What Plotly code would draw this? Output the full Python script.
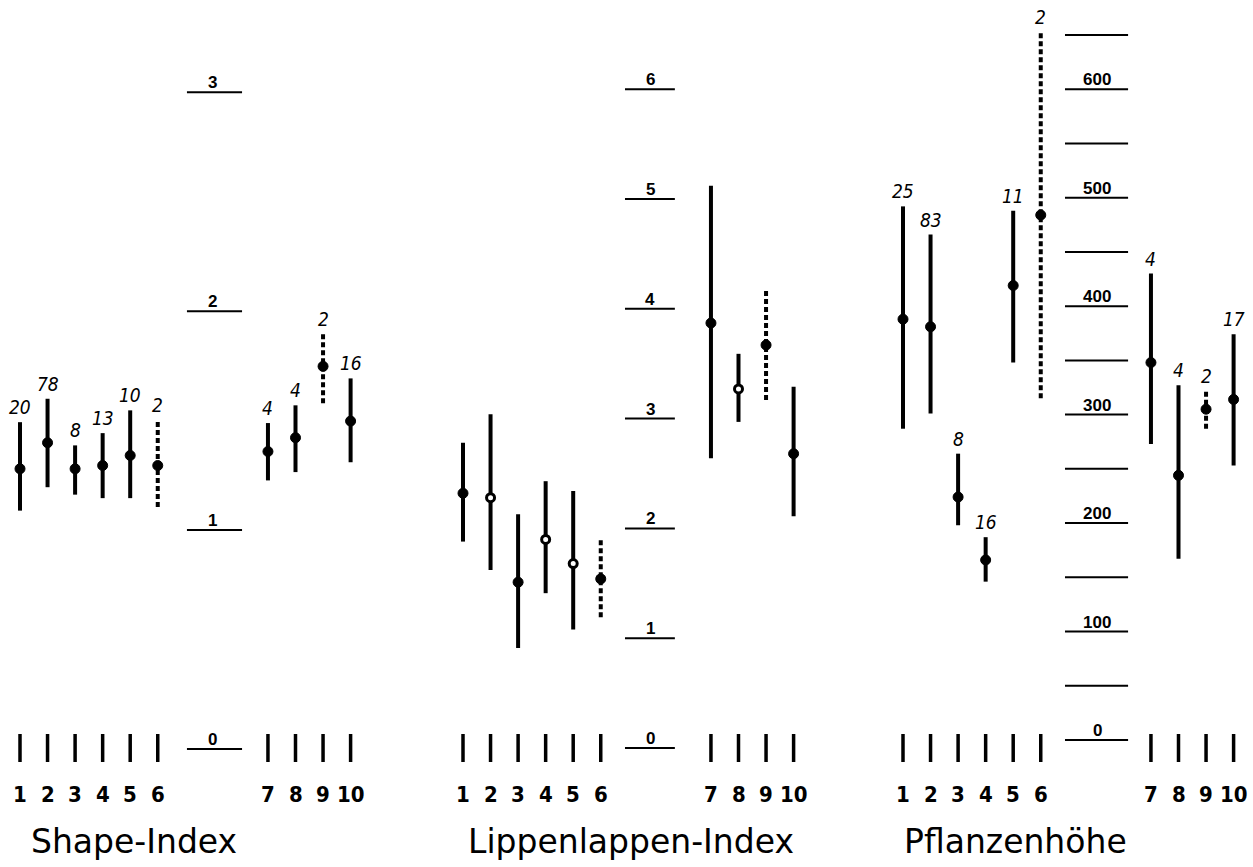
import plotly.graph_objects as go

# ---------------- data ----------------
groups = ["1", "2", "3", "4", "5", "6", "7", "8", "9", "10"]
dashed = [False, False, False, False, False, True, False, False, True, False]

shape_mean = [1.280, 1.399, 1.280, 1.295, 1.341, 1.295, 1.359, 1.422, 1.748, 1.498]
shape_low = [1.089, 1.196, 1.162, 1.146, 1.146, 1.105, 1.227, 1.265, 1.579, 1.310]
shape_high = [1.493, 1.600, 1.387, 1.443, 1.547, 1.501, 1.489, 1.570, 1.895, 1.693]
shape_n = ["20", "78", "8", "13", "10", "2", "4", "4", "2", "16"]
shape_ticks = [0, 1, 2, 3]
shape_ticklabels = ["0", "1", "2", "3"]

lip_mean = [2.32, 2.28, 1.51, 1.90, 1.68, 1.54, 3.87, 3.27, 3.67, 2.68]
lip_low = [1.88, 1.62, 0.91, 1.41, 1.08, 1.19, 2.64, 2.97, 3.17, 2.11]
lip_high = [2.78, 3.04, 2.13, 2.43, 2.34, 1.90, 5.12, 3.59, 4.18, 3.29]
lip_open = [False, True, False, True, True, False, False, True, False, False]
lip_n = ["", "", "", "", "", "", "", "", "", ""]
lip_ticks = [0, 1, 2, 3, 4, 5, 6]
lip_ticklabels = ["0", "1", "2", "3", "4", "5", "6"]

height_mean = [388, 381, 224, 166, 419, 484, 348, 244, 305, 314]
height_low = [287, 301, 198, 146, 348, 315, 273, 167, 287, 253]
height_high = [492, 466, 264, 187, 488, 653, 430, 327, 322, 374]
height_n = ["25", "83", "8", "16", "11", "2", "4", "4", "2", "17"]
height_ticks = [0, 50, 100, 150, 200, 250, 300, 350, 400, 450, 500, 550, 600, 650, 700]
height_ticklabels = ["0", "", "100", "", "200", "", "300", "", "400", "", "500", "", "600", "", ""]

titles = ["Shape-Index", "Lippenlappen-Index", "Pflanzenhöhe"]

# ---------------- layout geometry (positions / styles) ----------------
W, H = 1253, 867
slot = [0, 1, 2, 3, 4, 5, 9, 10, 11, 12]
spacing = 27.55
panels = [
    dict(base=20, y0px=749, ppu=218.9, scale_c=7.0, scale_l=6.06, scale_r=8.06, title_x=134,
         mean=shape_mean, low=shape_low, high=shape_high, n=shape_n, opn=[False] * 10,
         ticks=shape_ticks, ticklabels=shape_ticklabels),
    dict(base=463, y0px=748, ppu=109.8, scale_c=6.8, scale_l=5.88, scale_r=7.69, title_x=631,
         mean=lip_mean, low=lip_low, high=lip_high, n=lip_n, opn=lip_open,
         ticks=lip_ticks, ticklabels=lip_ticklabels),
    dict(base=903, y0px=740, ppu=1.0846, scale_c=7.05, scale_l=5.88, scale_r=8.17, title_x=1015,
         mean=height_mean, low=height_low, high=height_high, n=height_n, opn=[False] * 10,
         ticks=height_ticks, ticklabels=height_ticklabels),
]

fig = go.Figure()
shapes = []
annotations = []
layout_axes = {}

num_font = dict(family="Liberation Sans Narrow, DejaVu Sans Condensed, Arial Narrow, sans-serif",
                size=22, color="black")
n_font = dict(family="Liberation Sans Narrow, DejaVu Sans Condensed, sans-serif", size=19,
              color="black")
scale_font = dict(family="Liberation Sans, Arial, sans-serif", size=17, color="black")
title_font = dict(family="DejaVu Sans, Liberation Sans, sans-serif", size=33, color="black")

for k, p in enumerate(panels, start=1):
    xa = "x" if k == 1 else f"x{k}"
    ya = "y" if k == 1 else f"y{k}"
    xkey = "xaxis" if k == 1 else f"xaxis{k}"
    ykey = "yaxis" if k == 1 else f"yaxis{k}"
    layout_axes[xkey] = dict(domain=[0, 1], range=[-p["base"] / spacing, (W - p["base"]) / spacing],
                             visible=False, fixedrange=True, anchor=ya)
    layout_axes[ykey] = dict(domain=[0, 1], range=[(p["y0px"] - H) / p["ppu"], p["y0px"] / p["ppu"]],
                             visible=False, fixedrange=True, anchor=xa)

    # error bars (vertical range lines)
    for i in range(len(groups)):
        fig.add_trace(go.Scatter(
            x=[slot[i], slot[i]], y=[p["low"][i], p["high"][i]], mode="lines",
            line=dict(color="black", width=4, dash="5px,3px" if dashed[i] else "solid"),
            xaxis=xa, yaxis=ya, showlegend=False, hoverinfo="skip"))

    # means
    fig.add_trace(go.Scatter(
        x=slot, y=p["mean"], mode="markers",
        marker=dict(size=[8 if o else 10 for o in p["opn"]],
                    color=["white" if o else "black" for o in p["opn"]],
                    opacity=1,
                    line=dict(color="black", width=[3 if o else 1 for o in p["opn"]])),
        xaxis=xa, yaxis=ya, showlegend=False))

    # n labels
    for i in range(len(groups)):
        if p["n"][i]:
            annotations.append(dict(
                x=slot[i], y=p["high"][i], xref=xa, yref=ya, text=f"<i>{p['n'][i]}</i>",
                showarrow=False, xanchor="center", yanchor="bottom", yshift=2, font=n_font))

    # central scale
    for t, lab in zip(p["ticks"], p["ticklabels"]):
        shapes.append(dict(type="line", xref=xa, yref=ya, x0=p["scale_l"], x1=p["scale_r"],
                           y0=t, y1=t, line=dict(color="black", width=2)))
        if lab:
            annotations.append(dict(
                x=p["scale_c"], y=t, xref=xa, yref=ya, text=f"<b>{lab}</b>", showarrow=False,
                xanchor="center", yanchor="bottom", yshift=-2, font=scale_font))

    # bottom group markers and numbers
    for i, g in enumerate(groups):
        shapes.append(dict(type="line", xref=xa, yref="paper", x0=slot[i], x1=slot[i],
                           y0=1 - 762 / H, y1=1 - 734 / H, line=dict(color="black", width=3.5)))
        annotations.append(dict(x=slot[i], y=1 - 794 / H, xref=xa, yref="paper",
                                text=f"<b>{g}</b>", showarrow=False, xanchor="center",
                                yanchor="middle", font=num_font))

    annotations.append(dict(x=p["title_x"] / W, y=1 - 841 / H, xref="paper", yref="paper",
                            text=titles[k - 1], showarrow=False, xanchor="center",
                            yanchor="middle", font=title_font))

fig.update_layout(
    width=W, height=H, margin=dict(l=0, r=0, t=0, b=0),
    paper_bgcolor="white", plot_bgcolor="rgba(0,0,0,0)",
    shapes=shapes, annotations=annotations, showlegend=False,
    **layout_axes)

fig.write_html("out.html", config={"displayModeBar": False},
               post_script="document.body.style.margin='0';")
